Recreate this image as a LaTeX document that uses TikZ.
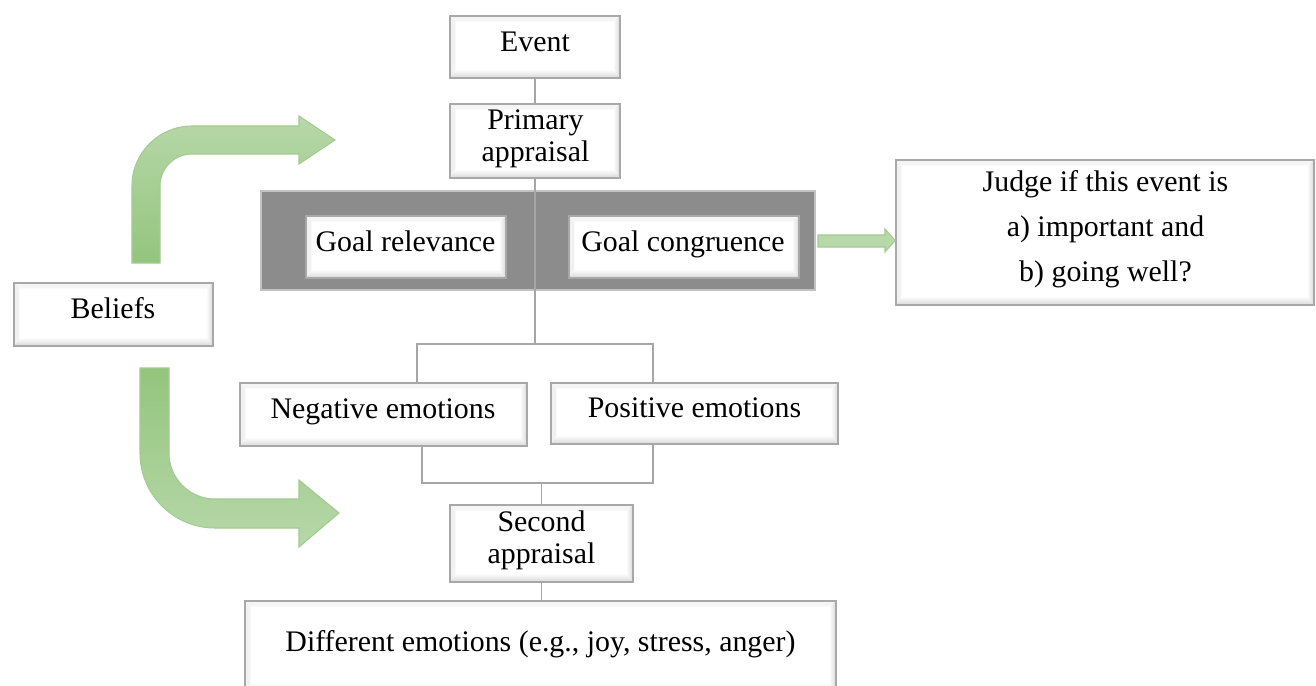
\documentclass[tikz,border=0pt]{standalone}
\usepackage{fontspec}
\setmainfont{Liberation Serif}
\usetikzlibrary{calc,fit}
\definecolor{boxline}{HTML}{A8A8A8}
\definecolor{bevel}{HTML}{D8D8D8}
\definecolor{panel}{HTML}{8C8C8C}
\definecolor{linkgray}{HTML}{A6A6A6}
\definecolor{greendark}{HTML}{93C57D}
\definecolor{greenlight}{HTML}{B7D8A9}
\definecolor{greenedge}{HTML}{A2CC90}
\tikzset{
  bevelbox/.style={draw=boxline, line width=0.9pt, fill=white, inner sep=0pt,
    path picture={
      \path (path picture bounding box.south west) coordinate (bsw)
            (path picture bounding box.north east) coordinate (bne);
      \path (bsw |- bne) coordinate (bnw) (bne |- bsw) coordinate (bse);
      \shade[top color=white, bottom color=bevel]
        (bsw) -- (bse) -- ($(bse)+(-4pt,5pt)$) -- ($(bsw)+(3pt,5pt)$) -- cycle;
      \shade[left color=white, right color=bevel]
        (bse) -- (bne) -- ($(bne)+(-4pt,-3pt)$) -- ($(bse)+(-4pt,5pt)$) -- cycle;
      \fill[bevel!25] (bnw) -- (bne) -- ($(bne)+(-4pt,-3pt)$) -- ($(bnw)+(3pt,-3pt)$) -- cycle;
      \fill[bevel!35] (bsw) -- (bnw) -- ($(bnw)+(3pt,-3pt)$) -- ($(bsw)+(3pt,5pt)$) -- cycle;
    }},
  txt/.style={inner sep=0pt, align=center, font=\fontsize{17}{18.2}\selectfont},
  link/.style={draw=linkgray, line width=0.9pt},
  bentarrow/.style={draw=greenedge, line width=0.6pt},
}
\begin{document}
\begin{tikzpicture}[x=0.02cm, y=-0.02cm]
\useasboundingbox (0,0) rectangle (1316,686);
\fill[white] (0,0) rectangle (1316,686);

% belief arrows
\shadedraw[bentarrow, top color=greenlight, bottom color=greendark]
  (132,263) -- (132,186) .. controls (132,152.9) and (158.9,126) .. (192,126)
  -- (299,126) -- (299,116) -- (335,140) -- (299,164) -- (299,154) -- (192,154)
  .. controls (174.3,154) and (160,168.3) .. (160,186) -- (160,263) -- cycle;
\shadedraw[bentarrow, top color=greendark, bottom color=greenlight]
  (140,368) -- (140,453) .. controls (140,494.4) and (173.6,528) .. (215,528)
  -- (299,528) -- (299,547) -- (339,513) -- (299,480) -- (299,499) -- (215,499)
  .. controls (189.6,499) and (169,478.4) .. (169,453) -- (169,368) -- cycle;

% grey panel holding the two goal checks
\node[draw=boxline!70, line width=0.6pt, fill=panel, inner sep=0pt,
      fit={(261,191) (815,290)}] (panel) {};

% boxes
\node[bevelbox, fit={(450,16) (620,78)}] (event) {};
\node[txt] (event-t) at (535,41.5) {Event};
\node[bevelbox, fit={(450,104) (620,178)}] (primary) {};
\node[txt] (primary-t) at (535.5,139) {Primary\\appraisal};
\node[bevelbox, fit={(306,216) (506,278)}] (relevance) {};
\node[txt] (relevance-t) at (405.5,241.5) {Goal relevance};
\node[bevelbox, fit={(569,216) (799,278)}] (congruence) {};
\node[txt] (congruence-t) at (683,244) {Goal congruence};
\node[bevelbox, fit={(896,160) (1314,305)}] (judge) {};
\node[txt, font=\fontsize{17}{25.5}\selectfont] (judge-t) at (1105.5,229.5)
  {Judge if this event is\\a) important and\\b) going well?};
\node[bevelbox, fit={(14,283) (213,346)}] (beliefs) {};
\node[txt] (beliefs-t) at (113,308) {Beliefs};
\node[bevelbox, fit={(240,383) (527,446)}] (neg) {};
\node[txt] (neg-t) at (383,411.5) {Negative emotions};
\node[bevelbox, fit={(551,383) (838,444)}] (pos) {};
\node[txt] (pos-t) at (694.5,408) {Positive emotions};
\node[bevelbox, fit={(450,505) (633,582)}] (second) {};
\node[txt] (second-t) at (541.5,540) {Second\\appraisal};
\node[bevelbox, fit={(245,601) (836,692)}] (diff) {};
\node[txt] (diff-t) at (540.5,644.5) {Different emotions (e.g., joy, stress, anger)};

% connectors
\coordinate (bl) at (417,344);
\coordinate (br) at (653,344);
\coordinate (jl) at (422,483);
\coordinate (jr) at (653,483);
\draw[link] (event.south) -- (primary.north);
\draw[link] (primary.south) -- (primary.south |- bl);
\draw[link] (bl |- neg.north) -- (bl) -- (br) -- (br |- pos.north);
\draw[link] (jl |- neg.south) -- (jl) -- (jr) -- (jr |- pos.south);
\draw[link] (second.north |- jl) -- (second.north);
\draw[link] (second.south) -- (diff.north -| second.south);

% arrow from the goal checks to the judgement
\draw[draw=greenedge, line width=0.6pt, fill=greenlight]
  (818,235) -- (885,235) -- (885,229) -- (judge.west |- 0,240.5) -- (885,252)
  -- (885,247) -- (818,247) -- cycle;
\end{tikzpicture}
\end{document}
